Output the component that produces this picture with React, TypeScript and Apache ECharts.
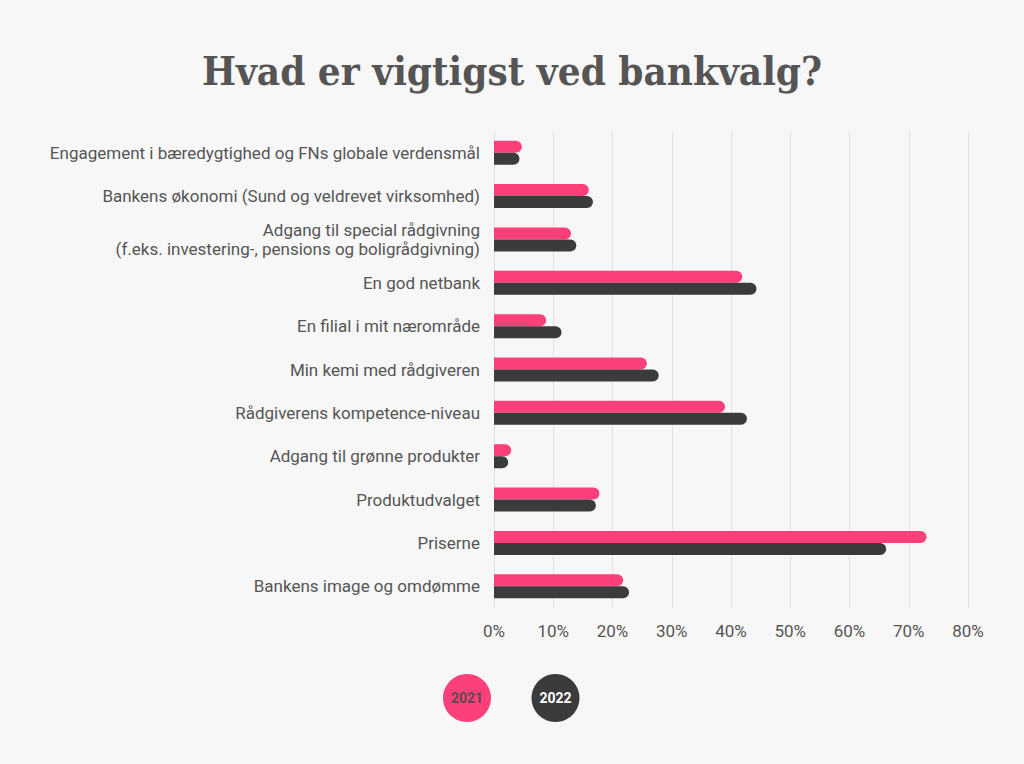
import React, { useEffect, useRef } from "react";
import * as echarts from "echarts";

const categories = [
  "Engagement i bæredygtighed og FNs globale verdensmål",
  "Bankens økonomi (Sund og veldrevet virksomhed)",
  "Adgang til special rådgivning\n(f.eks. investering-, pensions og boligrådgivning)",
  "En god netbank",
  "En filial i mit nærområde",
  "Min kemi med rådgiveren",
  "Rådgiverens kompetence-niveau",
  "Adgang til grønne produkter",
  "Produktudvalget",
  "Priserne",
  "Bankens image og omdømme",
];
const values2021 = [4.7, 16.0, 13.0, 41.9, 8.8, 25.8, 39.0, 2.9, 17.8, 73.0, 21.8];
const values2022 = [4.3, 16.7, 13.9, 44.3, 11.4, 27.8, 42.7, 2.4, 17.2, 66.2, 22.8];
const seriesNames = ["2021", "2022"];
const colors = ["#fd3f7a", "#3b3b3b"];

export default function App() {
  const ref = useRef<HTMLDivElement>(null);
  useEffect(() => {
    document.body.style.margin = "0";
    const chart = echarts.init(ref.current!, null, { renderer: "svg" });
    chart.setOption({
      animation: false,
      backgroundColor: "#f7f7f7",
      title: {
        text: "Hvad er vigtigst ved bankvalg?",
        left: "center",
        top: 45,
        textStyle: {
          fontFamily: "DejaVu Serif Condensed",
          fontWeight: "bold",
          fontSize: 40,
          color: "#555555",
        },
      },
      grid: { left: 494, right: 56, top: 131, bottom: 156, containLabel: false },
      xAxis: {
        type: "value",
        min: 0,
        max: 80,
        interval: 10,
        axisLine: { show: false },
        axisTick: { show: false },
        splitLine: { show: true, lineStyle: { color: "#e2e2e2", width: 1 } },
        axisLabel: {
          formatter: "{value}%",
          fontFamily: "Roboto",
          fontSize: 17,
          color: "#555555",
          margin: 14,
        },
      },
      yAxis: {
        type: "category",
        data: categories,
        inverse: true,
        axisLine: { show: false },
        axisTick: { show: false },
        axisLabel: {
          fontFamily: "Roboto",
          fontSize: 17,
          color: "#555555",
          margin: 14,
          lineHeight: 19,
        },
      },
      series: [
        {
          name: seriesNames[0],
          type: "bar",
          data: values2021,
          barWidth: 12,
          barGap: "0%",
          itemStyle: { color: colors[0], borderRadius: [0, 6, 6, 0] },
        },
        {
          name: seriesNames[1],
          type: "bar",
          data: values2022,
          barWidth: 12,
          barGap: "0%",
          itemStyle: { color: colors[1], borderRadius: [0, 6, 6, 0] },
        },
      ],
      graphic: [
        { type: "circle", shape: { cx: 467, cy: 698, r: 24 }, style: { fill: colors[0] } },
        {
          type: "text",
          x: 467,
          y: 698,
          style: {
            text: seriesNames[0],
            align: "center",
            verticalAlign: "middle",
            fontFamily: "Roboto",
            fontWeight: "bold",
            fontSize: 14,
            fill: "#5a4a52",
          },
        },
        { type: "circle", shape: { cx: 555.5, cy: 698, r: 24 }, style: { fill: colors[1] } },
        {
          type: "text",
          x: 555.5,
          y: 698,
          style: {
            text: seriesNames[1],
            align: "center",
            verticalAlign: "middle",
            fontFamily: "Roboto",
            fontWeight: "bold",
            fontSize: 14,
            fill: "#ffffff",
          },
        },
      ],
    });
    return () => chart.dispose();
  }, []);
  return <div ref={ref} style={{ width: 1024, height: 764 }} />;
}
